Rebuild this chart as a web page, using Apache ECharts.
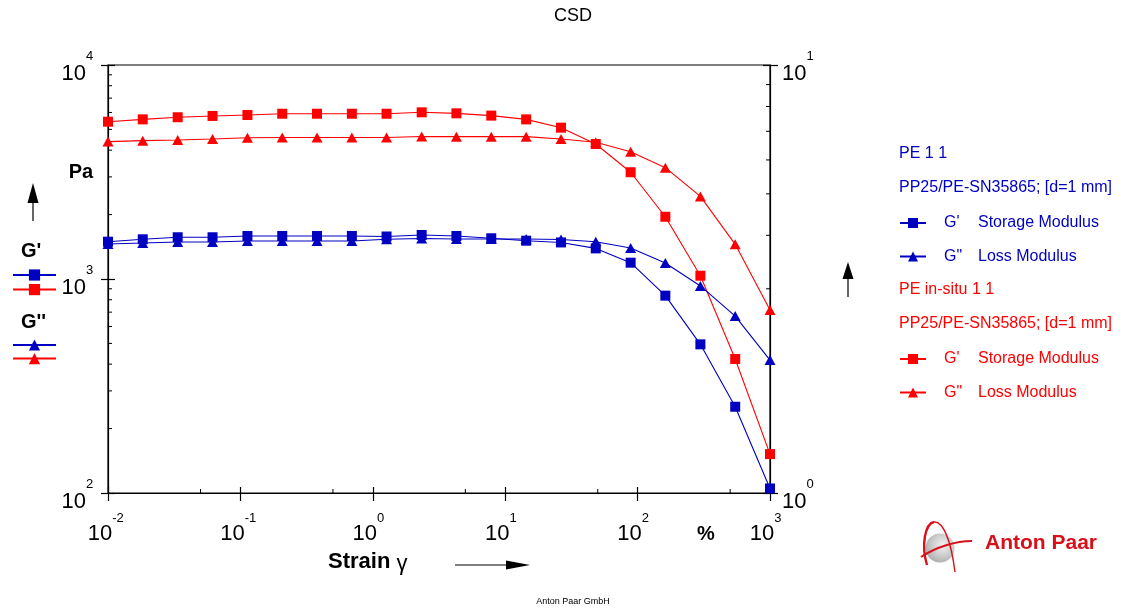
<!DOCTYPE html>
<html>
<head>
<meta charset="utf-8">
<script src="https://cdn.jsdelivr.net/npm/echarts@6/dist/echarts.min.js"></script>
<style>
  html, body { margin: 0; padding: 0; background: #fff; }
  #chart { width: 1127px; height: 609px; }
</style>
</head>
<body>
<div id="chart"></div>
<script>
// Strain amplitude sweep (%), 20 points per curve
const strain = [0.01, 0.0183, 0.0336, 0.0616, 0.113, 0.207, 0.379, 0.695, 1.27, 2.34,
                4.28, 7.85, 14.4, 26.4, 48.3, 88.6, 162, 298, 546, 1000];

// PE 1 1 (Pa)
const peStorage = [1494, 1533, 1567, 1567, 1589, 1589, 1589, 1589, 1580, 1606,
                   1589, 1550, 1510, 1482, 1390, 1192, 836, 495, 253, 105];
const peLoss    = [1458, 1473, 1490, 1490, 1506, 1506, 1506, 1506, 1533, 1546,
                   1538, 1538, 1538, 1530, 1494, 1396, 1188, 928, 671, 418];

// PE in-situ 1 1 (Pa)
const insituStorage = [5433, 5572, 5700, 5780, 5840, 5920, 5920, 5920, 5920, 6010,
                       5945, 5800, 5570, 5095, 4275, 3154, 1954, 1036, 423, 152];
const insituLoss    = [4385, 4430, 4465, 4510, 4575, 4580, 4580, 4580, 4580, 4634,
                       4625, 4625, 4625, 4510, 4353, 3935, 3313, 2431, 1452, 716];

// Intermediate tick positions on the log axes
const xMinorTicks  = [0.05, 0.5, 5, 50, 500];
const yMinorTicks  = [200, 300, 400, 500, 600, 700, 800, 900,
                      2000, 3000, 4000, 5000, 6000, 7000, 8000, 9000];
const y2MinorTicks = [2, 3, 4, 5, 6, 7, 8, 9];

const BLUE = '#0000c0';
const RED = '#ff0000';
const LOGO_RED = '#d8101a';
const FONT = 'Arial, "Liberation Sans", Helvetica, sans-serif';

const names = {
  peG1: "PE 1 1 G'", peG2: "PE 1 1 G''",
  inG1: "PE in-situ 1 1 G'", inG2: "PE in-situ 1 1 G''"
};
const legendText = {};
legendText[names.peG1] = "{g|G'}{m|Storage Modulus}";
legendText[names.peG2] = '{g|G"}{m|Loss Modulus}';
legendText[names.inG1] = "{g|G'}{m|Storage Modulus}";
legendText[names.inG2] = '{g|G"}{m|Loss Modulus}';

const pair = arr => strain.map((x, i) => [x, arr[i]]);
const expOf = v => Math.round(Math.log10(v));

// "10" with a raised exponent, as a single rich-text line
function powerLabel(supWidth, lineH) {
  return {
    formatter: v => '{b|10}{s|' + expOf(v) + '}',
    rich: {
      b: { fontFamily: FONT, fontSize: 22, lineHeight: 22, color: '#000', align: 'left', verticalAlign: 'bottom' },
      s: { fontFamily: FONT, fontSize: 13, lineHeight: lineH, color: '#000', align: 'left', verticalAlign: 'top',
           width: supWidth }
    }
  };
}

const axisLineStyle = { show: true, lineStyle: { color: '#000', width: 1.2 } };

function tickSeries(data, yAxisIndex, draw) {
  return {
    type: 'custom', xAxisIndex: 0, yAxisIndex: yAxisIndex, silent: true, z: 5,
    data: data,
    renderItem: (params, api) => {
      const p = api.coord([api.value(0), api.value(1)]);
      const d = draw(p);
      return { type: 'line', shape: { x1: p[0], y1: p[1], x2: d[0], y2: d[1] },
               style: { stroke: '#000', lineWidth: 1 } };
    }
  };
}

function lineSeries(name, data, color, symbol, size, z) {
  return {
    name: name, type: 'line', data: data, xAxisIndex: 0, yAxisIndex: 0,
    symbol: symbol, symbolSize: size, clip: false, z: z,
    lineStyle: { color: color, width: 1.1 },
    itemStyle: { color: color },
    emphasis: { disabled: true }, animation: false
  };
}

function iconLegend(data, top, gap) {
  return {
    orient: 'vertical', left: 12, top: top, padding: 0, itemGap: gap,
    itemWidth: 43, itemHeight: 14, selectedMode: false,
    formatter: () => '', data: data, textStyle: { fontSize: 1 }
  };
}

function textLegend(data, color, top) {
  return {
    orient: 'vertical', left: 899, top: top, padding: 0, itemGap: 15.5,
    itemWidth: 26, itemHeight: 12.5, selectedMode: false,
    formatter: n => legendText[n],
    data: data,
    textStyle: {
      color: color, fontFamily: FONT, fontSize: 16, lineHeight: 18,
      rich: {
        g: { color: color, fontFamily: FONT, fontSize: 16, width: 34, padding: [0, 0, 0, 13] },
        m: { color: color, fontFamily: FONT, fontSize: 16 }
      }
    }
  };
}

function txt(x, y, text, opts) {
  return {
    type: 'text', x: x, y: y, silent: true,
    style: Object.assign({ text: text, fill: '#000', textAlign: 'left', textVerticalAlign: 'middle',
                           font: '16px ' + FONT }, opts || {})
  };
}

function arrow(points, shaft) {
  return [
    { type: 'line', silent: true, shape: shaft, style: { stroke: '#000', lineWidth: 1.2 } },
    { type: 'polygon', silent: true, shape: { points: points }, style: { fill: '#000' } }
  ];
}

function curve(shape, width) {
  return { type: 'bezierCurve', silent: true, shape: shape,
           style: { stroke: LOGO_RED, lineWidth: width, fill: null } };
}

const chart = echarts.init(document.getElementById('chart'), null, { renderer: 'canvas' });

chart.setOption({
  animation: false,
  backgroundColor: '#fff',
  grid: { left: 108, right: 357, top: 65, bottom: 116, show: true, borderColor: '#000', borderWidth: 1.2 },
  xAxis: [
    {
      type: 'log', logBase: 10, min: 0.01, max: 1000, position: 'bottom',
      axisLine: axisLineStyle,
      axisTick: { show: true, inside: false, length: 8, lineStyle: { color: '#000', width: 1.2 } },
      axisLabel: Object.assign({ show: true, margin: 19, showMinLabel: true, showMaxLabel: true }, powerLabel(16, 32.5)),
      splitLine: { show: false }, minorTick: { show: false }
    },
    {
      type: 'log', logBase: 10, min: 0.01, max: 1000, position: 'bottom',
      axisLine: { show: false },
      axisTick: { show: true, inside: true, length: 6, lineStyle: { color: '#000', width: 1.2 } },
      axisLabel: { show: false }, splitLine: { show: false }
    }
  ],
  yAxis: [
    {
      type: 'log', logBase: 10, min: 100, max: 10000, position: 'left',
      axisLine: axisLineStyle,
      axisTick: { show: true, inside: false, length: 7, lineStyle: { color: '#000', width: 1.2 } },
      axisLabel: Object.assign({ show: true, margin: 10, padding: [5, 0, 0, 0], showMinLabel: true, showMaxLabel: true },
                               powerLabel(12, 35)),
      splitLine: { show: false }
    },
    {
      type: 'log', logBase: 10, min: 1, max: 10, position: 'right',
      axisLine: axisLineStyle,
      axisTick: { show: true, inside: false, length: 8, lineStyle: { color: '#000', width: 1.2 } },
      axisLabel: Object.assign({ show: true, margin: 12, padding: [5, 0, 0, 0], showMinLabel: true, showMaxLabel: true },
                               powerLabel(12, 35)),
      splitLine: { show: false }
    },
    {
      type: 'log', logBase: 10, min: 100, max: 10000, position: 'left',
      axisLine: { show: false },
      axisTick: { show: true, inside: true, length: 7, lineStyle: { color: '#000', width: 1.2 } },
      axisLabel: { show: false }, splitLine: { show: false }
    },
    {
      type: 'log', logBase: 10, min: 1, max: 10, position: 'right',
      axisLine: { show: false },
      axisTick: { show: true, inside: true, length: 7, lineStyle: { color: '#000', width: 1.2 } },
      axisLabel: { show: false }, splitLine: { show: false }
    }
  ],
  legend: [
    iconLegend([names.peG1, names.inG1], 268, 2),
    iconLegend([names.peG2, names.inG2], 338, 1),
    textLegend([names.peG1, names.peG2], BLUE, 214),
    textLegend([names.inG1, names.inG2], RED, 350)
  ],
  series: [
    tickSeries(xMinorTicks.map(v => [v, 100]), 0, p => [p[0], p[1] - 4]),
    tickSeries(yMinorTicks.map(v => [0.01, v]), 0, p => [p[0] + 4, p[1]]),
    tickSeries(y2MinorTicks.map(v => [1000, v]), 1, p => [p[0] - 4, p[1]]),
    lineSeries(names.inG2, pair(insituLoss), RED, 'triangle', [11, 10], 10),
    lineSeries(names.inG1, pair(insituStorage), RED, 'rect', 10, 11),
    lineSeries(names.peG2, pair(peLoss), BLUE, 'triangle', [11, 10], 12),
    lineSeries(names.peG1, pair(peStorage), BLUE, 'rect', 10, 13)
  ],
  graphic: [].concat(
    [
      txt(573, 16, 'CSD', { textAlign: 'center', font: '18px ' + FONT }),
      txt(81, 172.5, 'Pa', { textAlign: 'center', font: 'bold 20px ' + FONT }),
      txt(21, 251.5, "G'", { font: 'bold 20px ' + FONT }),
      txt(21, 322.5, "G''", { font: 'bold 20px ' + FONT }),
      txt(706, 534.5, '%', { textAlign: 'center', font: 'bold 20px ' + FONT }),
      {
        type: 'text', x: 328, y: 562, silent: true,
        style: {
          text: '{a|Strain }{g|γ}', textVerticalAlign: 'middle',
          rich: {
            a: { font: 'bold 22px ' + FONT, fill: '#000' },
            g: { font: '22px ' + FONT, fill: '#000', padding: [4, 0, 0, 0] }
          }
        }
      },
      txt(899, 154, 'PE 1 1', { fill: BLUE }),
      txt(899, 188, 'PP25/PE-SN35865; [d=1 mm]', { fill: BLUE }),
      txt(899, 290, 'PE in-situ 1 1', { fill: RED }),
      txt(899, 324, 'PP25/PE-SN35865; [d=1 mm]', { fill: RED }),
      txt(573, 602, 'Anton Paar GmbH', { textAlign: 'center', font: '9px ' + FONT })
    ],
    arrow([[27.5, 203], [33, 183], [38.5, 203]], { x1: 33, y1: 221, x2: 33, y2: 200 }),
    arrow([[842.5, 279], [848, 262], [853.5, 279]], { x1: 848, y1: 297, x2: 848, y2: 276 }),
    arrow([[506, 560.5], [530, 565], [506, 569.5]], { x1: 455, y1: 565, x2: 509, y2: 565 }),
    [
      // company logo: grey sphere with red orbits and word mark
      {
        type: 'circle', silent: true, shape: { cx: 940, cy: 548, r: 14.5 },
        style: {
          fill: new echarts.graphic.RadialGradient(0.6, 0.4, 0.9, [
            { offset: 0, color: '#f2f2f2' }, { offset: 0.5, color: '#c4c4c4' }, { offset: 1, color: '#8e8e8e' }
          ])
        }
      },
      curve({ x1: 927, y1: 565, cpx1: 921, cpy1: 545, cpx2: 925, cpy2: 524, x2: 934, y2: 522 }, 2.4),
      curve({ x1: 934, y1: 522, cpx1: 943, cpy1: 521, cpx2: 951, cpy2: 540, x2: 955, y2: 572 }, 1.4),
      curve({ x1: 921, y1: 557, cpx1: 936, cpy1: 547, cpx2: 956, cpy2: 541, x2: 972, y2: 541 }, 2),
      txt(985, 543, 'Anton Paar', { fill: LOGO_RED, font: 'bold 21px ' + FONT })
    ]
  )
});
</script>
</body>
</html>
